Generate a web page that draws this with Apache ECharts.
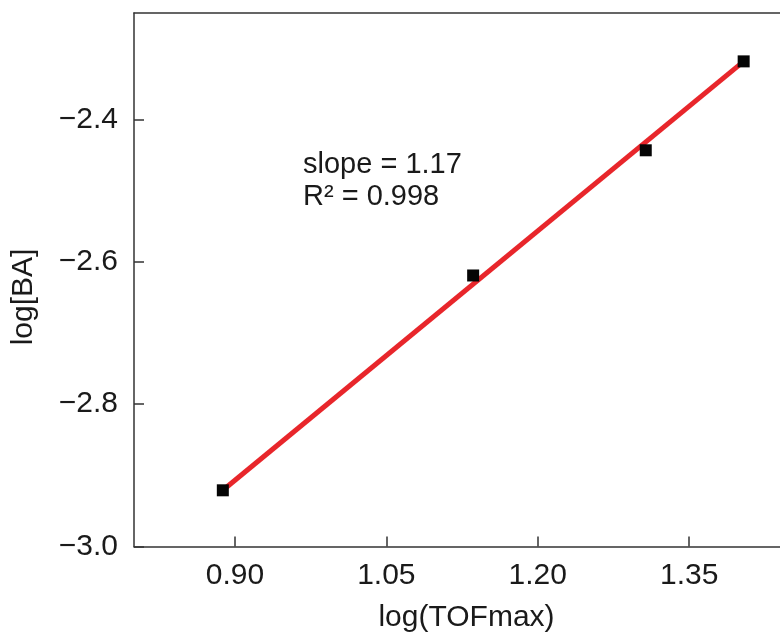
<!DOCTYPE html>
<html>
<head>
<meta charset="utf-8">
<style>
  html, body { margin: 0; padding: 0; background: #fff; }
  #chart { width: 780px; height: 637px; }
</style>
<script src="https://cdn.jsdelivr.net/npm/echarts@6/dist/echarts.min.js"></script>
</head>
<body>
<div id="chart"></div>
<script>
// Measured points: log(TOFmax) vs log[BA]
const logTOF = [0.888, 1.136, 1.307, 1.404];
const logBA = [-2.921, -2.619, -2.443, -2.318];

// Linear fit drawn between its end points
const fitX = [0.888, 1.404];
const fitY = [-2.921, -2.318];

// Tick values
const xTicks = [0.90, 1.05, 1.20, 1.35];
const yTicks = [-3.0, -2.8, -2.6, -2.4];

const slopeText = 'slope = 1.17';
const r2Text = 'R\u00B2 = 0.998';

const FONT = '"Liberation Sans", Arial, Helvetica, sans-serif';
const AXIS_COLOR = '#333';
const TEXT_COLOR = '#1a1a1a';

const chart = echarts.init(document.getElementById('chart'), null, { renderer: 'canvas' });

const minus = s => s.replace('-', '\u2212');
const axisLine = { show: true, onZero: false, lineStyle: { color: AXIS_COLOR, width: 1.5 } };
const tickStyle = { color: AXIS_COLOR, width: 1.5 };

chart.setOption({
  animation: false,
  backgroundColor: '#fff',
  grid: { left: 134, top: 13, right: 0, bottom: 90.5, containLabel: false },
  xAxis: [
    {
      type: 'value', min: 0.80, max: 1.44, position: 'bottom',
      axisLine: axisLine,
      axisTick: { show: true, inside: true, length: 10, customValues: xTicks, lineStyle: tickStyle },
      axisLabel: { customValues: xTicks, margin: 14, color: TEXT_COLOR,
        fontFamily: FONT, fontSize: 30, formatter: v => v.toFixed(2) },
      splitLine: { show: false }
    },
    {
      // top frame line
      type: 'value', min: 0.80, max: 1.44, position: 'top',
      axisLine: axisLine,
      axisTick: { show: false }, axisLabel: { show: false }, splitLine: { show: false }
    }
  ],
  yAxis: {
    type: 'value', min: -3.0, max: -2.25,
    axisLine: axisLine,
    axisTick: { show: true, inside: true, length: 10, customValues: yTicks, lineStyle: tickStyle },
    axisLabel: { customValues: yTicks, margin: 16, color: TEXT_COLOR,
      fontFamily: FONT, fontSize: 30, formatter: v => minus(v.toFixed(1)) },
    splitLine: { show: false }
  },
  graphic: [
    { type: 'text', x: 303, y: 164.5,
      style: { text: slopeText, font: '29px ' + FONT, fill: TEXT_COLOR,
        textAlign: 'left', textVerticalAlign: 'middle' } },
    { type: 'text', x: 303, y: 196.5,
      style: { text: r2Text, font: '29px ' + FONT, fill: TEXT_COLOR,
        textAlign: 'left', textVerticalAlign: 'middle' } },
    { type: 'text', x: 466.5, y: 618,
      style: { text: 'log(TOFmax)', font: '30px ' + FONT, fill: TEXT_COLOR,
        textAlign: 'center', textVerticalAlign: 'middle' } },
    { type: 'text', x: 24, y: 297, rotation: Math.PI / 2,
      style: { text: 'log[BA]', font: '30px ' + FONT, fill: TEXT_COLOR,
        textAlign: 'center', textVerticalAlign: 'middle' } }
  ],
  series: [
    {
      type: 'line',
      data: fitX.map((x, i) => [x, fitY[i]]),
      symbol: 'none',
      lineStyle: { color: '#e8262b', width: 5 },
      z: 2
    },
    {
      type: 'scatter',
      data: logTOF.map((x, i) => [x, logBA[i]]),
      symbol: 'rect',
      symbolSize: 12,
      itemStyle: { color: '#050505', opacity: 1 },
      z: 3
    }
  ]
});
</script>
</body>
</html>
